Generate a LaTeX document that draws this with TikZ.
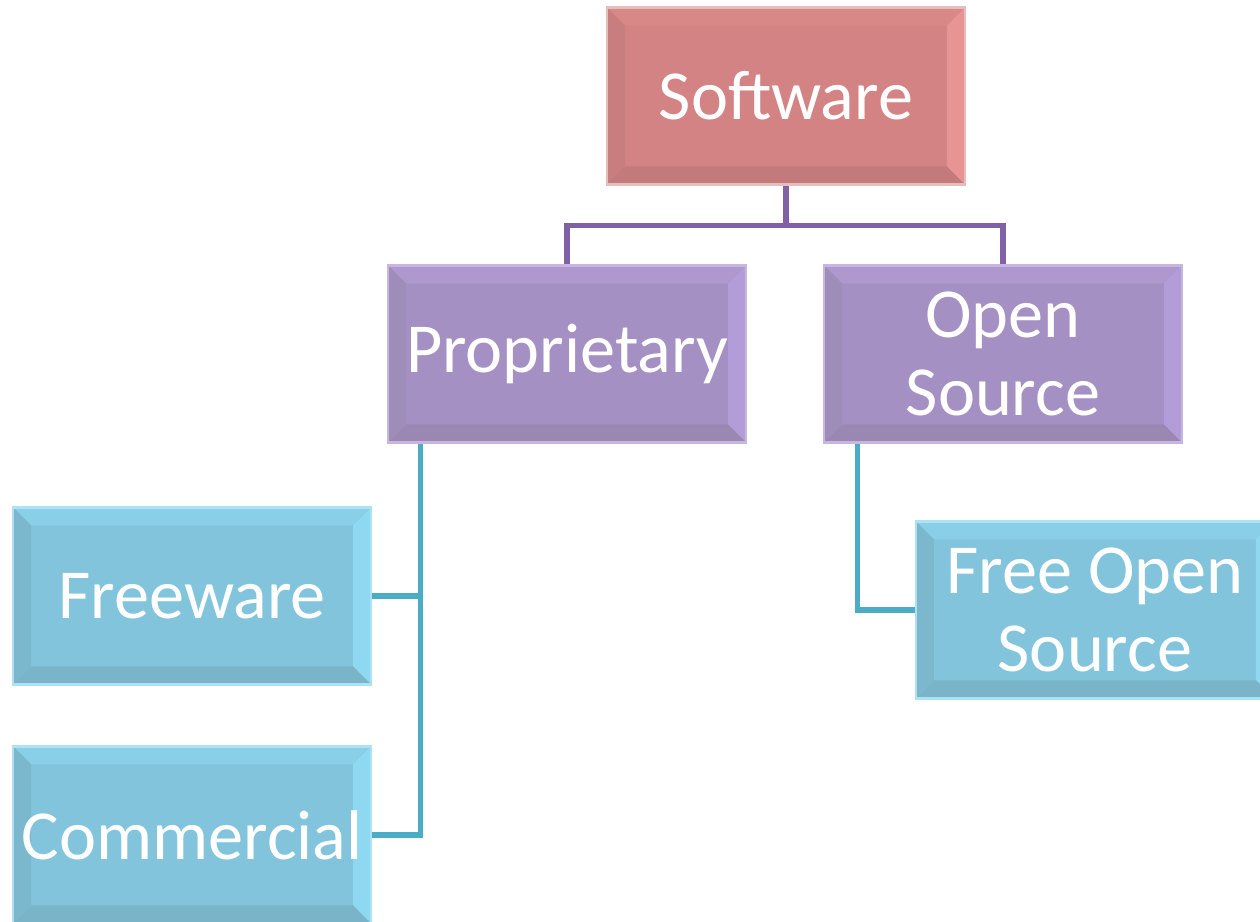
\documentclass[tikz,border=0pt]{standalone}
\usepackage{fontspec}
\setmainfont{Carlito}
\usepackage{xcolor}
\usetikzlibrary{positioning}

\definecolor{softFill}{HTML}{D38383}
\definecolor{softTop}{HTML}{D98888}
\definecolor{softRight}{HTML}{E99494}
\definecolor{softBottom}{HTML}{C27A7A}
\definecolor{softLeft}{HTML}{C87E7E}
\definecolor{softEdge}{HTML}{E6BCBC}
\definecolor{propFill}{HTML}{A590C4}
\definecolor{propTop}{HTML}{AE98CE}
\definecolor{propRight}{HTML}{B39DD8}
\definecolor{propBottom}{HTML}{9A88B2}
\definecolor{propLeft}{HTML}{9E8CB9}
\definecolor{propEdge}{HTML}{C6B6E0}
\definecolor{leafFill}{HTML}{82C4DC}
\definecolor{leafTop}{HTML}{89CFE8}
\definecolor{leafRight}{HTML}{8ED8F2}
\definecolor{leafBottom}{HTML}{7AB4C8}
\definecolor{leafLeft}{HTML}{7CB8CD}
\definecolor{leafEdge}{HTML}{ACE2F4}
\definecolor{purpleLine}{HTML}{7F62A6}
\definecolor{blueLine}{HTML}{4BACC6}

\tikzset{
  block/.style={rectangle, minimum width=7.16cm, minimum height=3.54cm,
    inner sep=0pt, align=center, text=white, font=\fontsize{40}{44}\selectfont,
    line width=1.5pt, draw=#1Edge, fill=#1Fill,
    path picture={
      \fill[#1Top] (path picture bounding box.north west) -- (path picture bounding box.north east)
        -- ([shift={(-0.36cm,-0.36cm)}]path picture bounding box.north east)
        -- ([shift={(0.36cm,-0.36cm)}]path picture bounding box.north west) -- cycle;
      \fill[#1Right] (path picture bounding box.north east) -- (path picture bounding box.south east)
        -- ([shift={(-0.36cm,0.36cm)}]path picture bounding box.south east)
        -- ([shift={(-0.36cm,-0.36cm)}]path picture bounding box.north east) -- cycle;
      \fill[#1Bottom] (path picture bounding box.south west) -- (path picture bounding box.south east)
        -- ([shift={(-0.36cm,0.36cm)}]path picture bounding box.south east)
        -- ([shift={(0.36cm,0.36cm)}]path picture bounding box.south west) -- cycle;
      \fill[#1Left] (path picture bounding box.north west) -- (path picture bounding box.south west)
        -- ([shift={(0.36cm,0.36cm)}]path picture bounding box.south west)
        -- ([shift={(0.36cm,-0.36cm)}]path picture bounding box.north west) -- cycle;
    }},
  link/.style={line width=3pt, draw=#1}
}

\begin{document}
\begin{tikzpicture}[x=0.02cm, y=-0.02cm, on grid]

    \useasboundingbox (0,0) rectangle (1260,921);

    \node[block=soft] (soft) at (786,96) {Software};
    \node[block=prop] (prop) [below left=5.16cm and 4.38cm of soft] {Proprietary};
    \node[block=prop] (open) [right=8.72cm of prop] {Open\\Source};
    \node[block=leaf] (free) [below left=4.84cm and 7.5cm of prop] {Freeware};
    \node[block=leaf] (comm) [below=4.78cm of free] {Commercial};
    \node[block=leaf] (fos) [below right=5.12cm and 1.84cm of open] {Free Open\\Source};

    \coordinate (split) at ([yshift=0.78cm]prop.north);
    \coordinate (pdrop) at ([xshift=0.68cm]prop.south west);
    \coordinate (odrop) at ([xshift=0.7cm]open.south west);

    \draw[link=purpleLine] (soft.south) -- (soft.south |- split);
    \draw[link=purpleLine] (prop.north) |- (open.north |- split) -- (open.north);
    \draw[link=blueLine] (pdrop) |- (comm.east);
    \draw[link=blueLine] (free.east) -- (free.east -| pdrop);
    \draw[link=blueLine] (odrop) |- (fos.west);

\end{tikzpicture}
\end{document}
